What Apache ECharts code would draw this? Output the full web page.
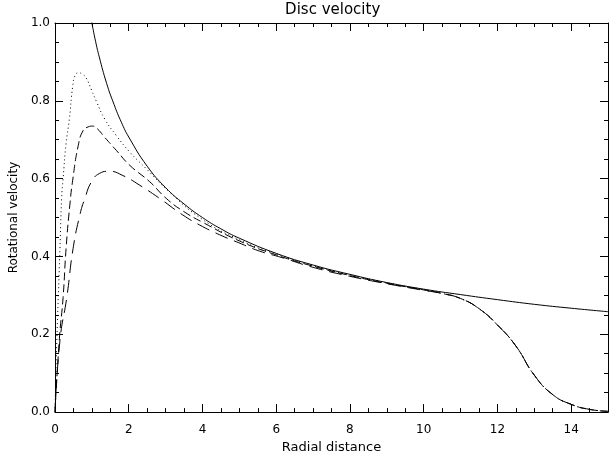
<!DOCTYPE html>
<html><head><meta charset="utf-8">
<script src="https://cdn.jsdelivr.net/npm/echarts@6/dist/echarts.min.js"></script>
<style>html,body{margin:0;padding:0;background:#fff}#c{width:611px;height:459px}</style>
</head><body><div id="c"></div>
<script>
// Tick labels
const xTicks = [0, 2, 4, 6, 8, 10, 12, 14];
const yTicks = [0.0, 0.2, 0.4, 0.6, 0.8, 1.0];

// Solid curve
const rSolid = [0.98, 1.0, 1.1, 1.2, 1.4, 1.6, 1.8, 2.0, 2.5, 3, 3.5, 4, 4.5, 5, 6, 7, 8, 9, 10, 11, 12, 13, 14, 15];
const vSolid = [1.01, 1.0, 0.953, 0.913, 0.845, 0.791, 0.745, 0.707, 0.632, 0.577, 0.535, 0.5, 0.471, 0.447, 0.408, 0.378, 0.354, 0.333, 0.316, 0.302, 0.289, 0.277, 0.267, 0.258];

// Common outer tail of the three truncated discs
const rTail = [10.5, 11, 11.5, 12, 12.5, 13, 13.5, 14, 14.5, 15];
const vTail = [0.305, 0.292, 0.266, 0.224, 0.17, 0.095, 0.045, 0.02, 0.007, 0.002];

// Dotted curve
const rDotted = [0, 0.045, 0.135, 0.18, 0.22, 0.3, 0.39, 0.48, 0.55, 0.65, 0.75, 0.85, 0.99, 1.13, 1.35, 1.67, 2.03, 2.48, 3.1, 4, 5, 6, 7, 8, 9, 10];
const vDotted = [0, 0.17, 0.42, 0.55, 0.60, 0.69, 0.753, 0.837, 0.866, 0.872, 0.868, 0.858, 0.828, 0.797, 0.753, 0.71, 0.668, 0.625, 0.566, 0.495, 0.443, 0.406, 0.376, 0.352, 0.332, 0.315];

// Short-dashed curve
const rShort = [0, 0.12, 0.22, 0.30, 0.40, 0.48, 0.63, 0.76, 0.9, 1.02, 1.15, 1.35, 1.67, 2.03, 2.57, 3.02, 3.5, 4, 5, 6, 7, 8, 9, 10];
const vShort = [0, 0.19, 0.295, 0.42, 0.53, 0.596, 0.685, 0.723, 0.733, 0.735, 0.728, 0.706, 0.672, 0.634, 0.592, 0.549, 0.515, 0.488, 0.44, 0.404, 0.375, 0.351, 0.331, 0.314];

// Long-dashed curve
const rLong = [0, 0.135, 0.32, 0.49, 0.675, 0.81, 0.99, 1.2, 1.47, 1.84, 2.3, 2.84, 3.46, 3.92, 4.46, 4.99, 5.54, 6.16, 7, 8, 9, 10];
const vLong = [0, 0.185, 0.295, 0.42, 0.507, 0.549, 0.592, 0.613, 0.619, 0.608, 0.583, 0.549, 0.507, 0.481, 0.456, 0.435, 0.414, 0.397, 0.372, 0.349, 0.33, 0.313];

function pairs(r, v) { return r.map((x, i) => [x, v[i]]); }
function withTail(r, v) { return pairs(r.concat(rTail), v.concat(vTail)); }

const FONT = 'DejaVu Sans';
const chart = echarts.init(document.getElementById('c'), null, {renderer: 'canvas'});
const lineC = '#000';

function xAx(pos, interval, len, labels, showLine, name) {
  return {
    type: 'value', position: pos, min: 0, max: 15, interval: interval,
    axisLine: {show: showLine, onZero: false, lineStyle: {color: lineC, width: 1}},
    axisTick: {show: true, inside: true, length: len, lineStyle: {color: lineC, width: 1}},
    axisLabel: labels ? {show: true, color: '#000', fontFamily: FONT, fontSize: 12, margin: 12,
      formatter: v => (xTicks.indexOf(v) >= 0 ? String(v) : '')} : {show: false},
    splitLine: {show: false},
    name: name || '', nameLocation: 'middle', nameGap: 27,
    nameTextStyle: {color: '#000', fontFamily: FONT, fontSize: 13}
  };
}
function yAx(pos, labels, showLine, name) {
  return {
    type: 'value', position: pos, min: 0, max: 1, interval: 0.2,
    axisLine: {show: showLine, onZero: false, lineStyle: {color: lineC, width: 1}},
    axisTick: {show: true, inside: true, length: 8, lineStyle: {color: lineC, width: 1}},
    minorTick: {show: true, splitNumber: 4, length: 4, lineStyle: {color: lineC, width: 1}},
    axisLabel: labels ? {show: true, color: '#000', fontFamily: FONT, fontSize: 12, margin: 5,
      formatter: v => {const t = yTicks.find(y => Math.abs(y - v) < 1e-9); return t === undefined ? '' : t.toFixed(1);}} : {show: false},
    splitLine: {show: false},
    name: name || '', nameLocation: 'middle', nameGap: 24,
    nameTextStyle: {color: '#000', fontFamily: FONT, fontSize: 12}
  };
}

function ser(data, type, width) {
  return {
    type: 'line', xAxisIndex: 0, yAxisIndex: 0, data: data, symbol: 'none',
    smooth: 0.5, clip: true, animation: false,
    lineStyle: {color: '#000', width: width || 1, type: type}
  };
}

chart.setOption({
  animation: false,
  backgroundColor: '#fff',
  grid: {left: 55, right: 1, top: 23, bottom: 43, containLabel: false},
  xAxis: [
    xAx('bottom', 2, 8, true, true, 'Radial distance'),
    xAx('bottom', 0.5, 4, false, false),
    xAx('top', 2, 8, false, true),
    xAx('top', 0.5, 4, false, false)
  ],
  yAxis: [
    yAx('left', true, true, 'Rotational velocity'),
    yAx('right', false, true)
  ],
  graphic: [{
    type: 'text', x: 332.7, y: 10,
    style: {text: 'Disc velocity', fontFamily: FONT, fontSize: 15, fill: '#000',
      textAlign: 'center', textVerticalAlign: 'middle'}
  }],
  series: [
    ser(pairs(rSolid, vSolid), 'solid'),
    ser(withTail(rDotted, vDotted), [1, 3]),
    ser(withTail(rShort, vShort), [8, 4]),
    ser(withTail(rLong, vLong), [13, 7])
  ]
});
</script>
</body></html>
